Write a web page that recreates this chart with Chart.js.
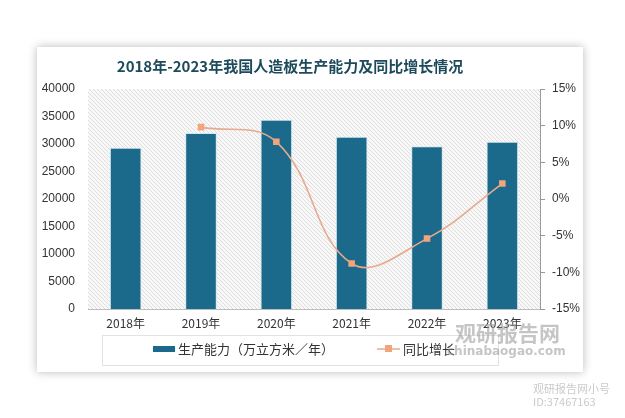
<!DOCTYPE html>
<html>
<head>
<meta charset="utf-8">
<script src="https://cdn.jsdelivr.net/npm/chart.js@4/dist/chart.umd.min.js"></script>
<style>
  body { margin: 0; background: #fff; }
  #card { position: absolute; left: 37px; top: 47px; width: 546px; height: 325px;
          background: #fff; box-shadow: 0 0 9px rgba(0,0,0,0.28); }
  #myChart { position: absolute; left: 0; top: 0; }
</style>
</head>
<body>
<div id="card"></div>
<canvas id="myChart" width="625" height="418"></canvas>
<script>
// data
const years = ["2018年", "2019年", "2020年", "2021年", "2022年", "2023年"];
const capacity = [29300, 32000, 34400, 31300, 29600, 30400];
const growth = [null, 9.8, 7.8, -8.8, -5.4, 2.1];
const capacityLabel = "生产能力（万立方米／年）";
const growthLabel = "同比增长";
const titleText = "2018年-2023年我国人造板生产能力及同比增长情况";

const barColor = "#1b6a8b";
const lineColor = "#e9a98e";
const markColor = "#f2a47c";

// diagonal hatch for the plot area
function hatch() {
    const c = document.createElement("canvas");
    c.width = 4; c.height = 4;
    const g = c.getContext("2d");
    g.fillStyle = "#f8f8f8";
    g.fillRect(0, 0, 4, 4);
    g.strokeStyle = "#dedede";
    g.lineWidth = 1;
    g.beginPath();
    g.moveTo(0, 0); g.lineTo(4, 4);
    g.moveTo(-1, 3); g.lineTo(1, 5);
    g.moveTo(3, -1); g.lineTo(5, 1);
    g.stroke();
    return c;
}

const decor = {
    id: "decor",
    beforeDraw(chart) {
        const ctx = chart.ctx, a = chart.chartArea;
        ctx.save();
        ctx.fillStyle = ctx.createPattern(hatch(), "repeat");
        ctx.fillRect(a.left, a.top, a.right - a.left, a.bottom - a.top);
        ctx.restore();
    },
    afterDraw(chart) {
        const ctx = chart.ctx;
        ctx.save();
        // title
        ctx.fillStyle = "#1e4b5b";
        ctx.font = "bold 15px 'Noto Sans CJK SC'";
        ctx.textAlign = "center";
        ctx.textBaseline = "middle";
        ctx.fillText(titleText, 290, 66);

        // legend box
        ctx.strokeStyle = "#e2e2e2";
        ctx.lineWidth = 1;
        ctx.strokeRect(102.5, 335.5, 396, 30);
        ctx.font = "13px 'Noto Sans CJK SC'";
        ctx.textAlign = "left";
        ctx.fillStyle = barColor;
        ctx.fillRect(153, 346, 22, 6);
        ctx.fillStyle = "#333";
        ctx.fillText(capacityLabel, 178, 349);
        ctx.strokeStyle = lineColor;
        ctx.lineWidth = 1.5;
        ctx.beginPath(); ctx.moveTo(377, 349); ctx.lineTo(400, 349); ctx.stroke();
        ctx.fillStyle = markColor;
        ctx.fillRect(385, 345, 7, 7);
        ctx.fillStyle = "#333";
        ctx.fillText(growthLabel, 403, 349);

        // watermarks
        ctx.fillStyle = "rgba(150,150,150,0.55)";
        ctx.font = "bold 21px 'Noto Sans CJK SC'";
        ctx.fillText("观研报告网", 455, 333);
        ctx.font = "bold 12px 'DejaVu Sans'";
        ctx.fillText("chinabaogao.com", 447, 352);
        ctx.fillStyle = "rgba(150,150,150,0.5)";
        ctx.font = "11px 'Noto Sans CJK SC'";
        ctx.fillText("观研报告网小号", 533, 389);
        ctx.fillText("ID:37467163", 533, 402);
        ctx.restore();
    }
};

new Chart(document.getElementById("myChart").getContext("2d"), {
    type: "bar",
    data: {
        labels: years,
        datasets: [
            {
                type: "line",
                label: growthLabel,
                data: growth,
                yAxisID: "y1",
                borderColor: lineColor,
                borderWidth: 1.6,
                tension: 0.4,
                pointStyle: "rect",
                pointRadius: 3.5,
                pointBackgroundColor: markColor,
                pointBorderColor: markColor,
                order: 0
            },
            {
                label: capacityLabel,
                data: capacity,
                yAxisID: "y",
                backgroundColor: barColor,
                borderColor: "#d3e9f1",
                borderWidth: 1,
                categoryPercentage: 1,
                barPercentage: 0.42,
                order: 1
            }
        ]
    },
    options: {
        responsive: false,
        animation: false,
        layout: { padding: { left: 0, right: 0, top: 89, bottom: 79 } },
        plugins: { legend: { display: false }, tooltip: { enabled: false } },
        scales: {
            x: {
                grid: { display: false, drawTicks: false },
                border: { color: "#bdbdbd" },
                ticks: { color: "#333", font: { size: 12, family: "'Noto Sans CJK SC'" }, padding: 7 },
                afterFit: s => { s.height = 30; }
            },
            y: {
                position: "left",
                min: 0, max: 40000,
                grid: { display: false, drawTicks: false },
                border: { display: false },
                ticks: { stepSize: 5000, color: "#333", font: { size: 12, family: "'Liberation Sans'" }, padding: 13,
                         callback: v => String(v) },
                afterFit: s => { s.width = 88; }
            },
            y1: {
                position: "right",
                min: -15, max: 15,
                grid: { drawOnChartArea: false, tickLength: 5, color: "#999" },
                border: { color: "#999" },
                ticks: { stepSize: 5, color: "#333", font: { size: 12, family: "'Liberation Sans'" }, padding: 7,
                         callback: v => v + "%" },
                afterFit: s => { s.width = 85; }
            }
        }
    },
    plugins: [decor]
});
</script>
</body>
</html>
